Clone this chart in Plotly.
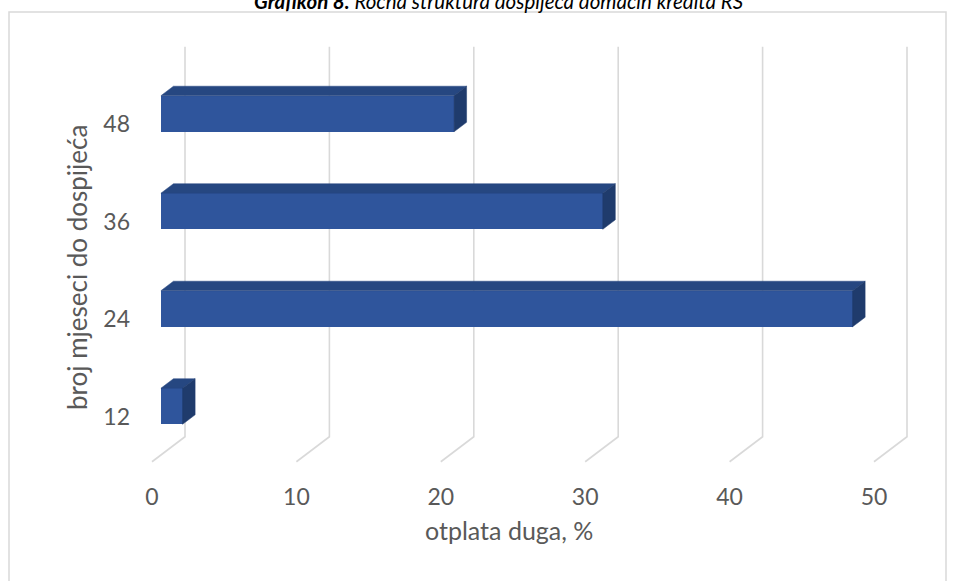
import plotly.graph_objects as go

categories = ["12", "24", "36", "48"]
values = [1.5, 47.9, 30.6, 20.3]
x_ticks = [0, 10, 20, 30, 40, 50]
title_bold = "Grafikon 8."
title_rest = "Ročna struktura dospijeća domaćih kredita RS"
x_title = "otplata duga, %"
y_title = "broj mjeseci do dospijeća"

W, H = 956, 581
L, R, T, B = 145, 24, 40, 111
PW = W - L - R
PH = H - T - B
PX_PER_X = 14.44
X0_PX = 152
PX_PER_Y = 97.5
Y0_PX = 413

x_lo = (L - X0_PX) / PX_PER_X
x_hi = x_lo + PW / PX_PER_X
y_hi = (Y0_PX - T) / PX_PER_Y
y_lo = (Y0_PX - (T + PH)) / PX_PER_Y

DX = 33 / PX_PER_X
DY = 25 / PX_PER_Y
D0, D1 = 0.27, 0.65
HALF = 0.185
floor = -0.5
top = len(categories) - 0.5

FONT = "Lato"
GREY = "#595959"
GRID = "#d9d9d9"
FRONT = "#2f559c"
TOPC = "#264781"
SIDE = "#1f3b6c"


def px_to_paper_x(px):
    return (px - L) / PW


def px_to_paper_y(py):
    return (T + PH - py) / PH


fig = go.Figure()

# top and side faces
for i, v in enumerate(values):
    yt = i + HALF
    yb = i - HALF
    fig.add_trace(go.Scatter(
        x=[D0 * DX, v + D0 * DX, v + D1 * DX, D1 * DX, D0 * DX],
        y=[yt + D0 * DY, yt + D0 * DY, yt + D1 * DY, yt + D1 * DY, yt + D0 * DY],
        fill="toself", fillcolor=TOPC, mode="lines",
        line=dict(color=TOPC, width=0.5), hoverinfo="skip", showlegend=False))
    fig.add_trace(go.Scatter(
        x=[v + D0 * DX, v + D0 * DX, v + D1 * DX, v + D1 * DX, v + D0 * DX],
        y=[yb + D0 * DY, yt + D0 * DY, yt + D1 * DY, yb + D1 * DY, yb + D0 * DY],
        fill="toself", fillcolor=SIDE, mode="lines",
        line=dict(color=SIDE, width=0.5), hoverinfo="skip", showlegend=False))

# front faces
fig.add_trace(go.Bar(
    orientation="h",
    x=values,
    base=D0 * DX,
    y=[i + D0 * DY for i in range(len(categories))],
    width=2 * HALF,
    marker=dict(color=FRONT, line=dict(width=0)),
    hovertext=categories, showlegend=False))

# gridlines (floor diagonal + back wall vertical), drawn beneath the bars
shapes = []
for t in x_ticks:
    shapes.append(dict(type="path", xref="x", yref="y", layer="below",
                       path=f"M {t},{floor} L {t + DX},{floor + DY} L {t + DX},{top + DY}",
                       line=dict(color=GRID, width=1.6)))

shapes.append(dict(type="rect", xref="paper", yref="paper",
                   x0=px_to_paper_x(9), x1=px_to_paper_x(946),
                   y0=px_to_paper_y(620), y1=px_to_paper_y(12),
                   line=dict(color=GRID, width=1.5), fillcolor="rgba(0,0,0,0)",
                   layer="below"))

fig.update_layout(
    width=W, height=H,
    margin=dict(l=L, r=R, t=T, b=B),
    paper_bgcolor="white", plot_bgcolor="rgba(0,0,0,0)",
    font=dict(family=FONT, color=GREY),
    bargap=0,
    xaxis=dict(range=[x_lo, x_hi], tickvals=x_ticks,
               ticktext=[str(t) for t in x_ticks],
               showgrid=False, zeroline=False, showline=False,
               ticklabelstandoff=11,
               tickfont=dict(size=23, color=GREY, family=FONT)),
    yaxis=dict(range=[y_lo, y_hi],
               tickvals=[i - 0.04 for i in range(len(categories))],
               ticktext=categories,
               showgrid=False, zeroline=False, showline=False,
               ticklabelstandoff=14,
               tickfont=dict(size=23, color=GREY, family=FONT)),
    shapes=shapes,
    annotations=[
        dict(text="<b><i>" + title_bold + "</i></b><i> " + title_rest + "</i>",
             xref="paper", yref="paper", x=px_to_paper_x(499),
             y=px_to_paper_y(15), xanchor="center", yanchor="bottom",
             showarrow=False, font=dict(size=20.5, color="black", family=FONT)),
        dict(text=x_title, xref="paper", yref="paper",
             x=px_to_paper_x(509), y=px_to_paper_y(530),
             xanchor="center", yanchor="middle", showarrow=False,
             font=dict(size=25, color=GREY, family=FONT)),
        dict(text=y_title, xref="paper", yref="paper",
             x=px_to_paper_x(77), y=px_to_paper_y(268),
             xanchor="center", yanchor="middle", showarrow=False,
             textangle=-90, font=dict(size=26, color=GREY, family=FONT)),
    ],
)

fig.write_html("out.html")
